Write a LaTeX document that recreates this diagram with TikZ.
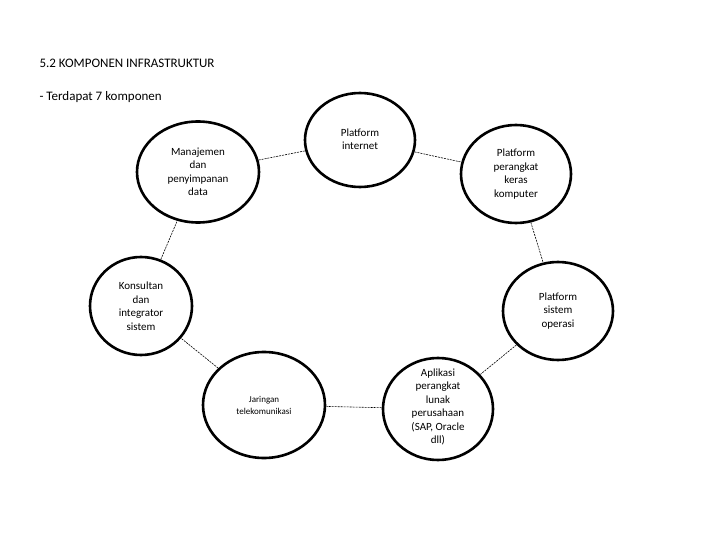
\documentclass[tikz,border=0pt]{standalone}
\usepackage{fontspec}
\setmainfont{Carlito}
\begin{document}
\begin{tikzpicture}[x=1pt,y=-1pt,
  comp/.style={ellipse,draw,line width=2.6pt,align=center,font=\fontsize{11}{13.5}\selectfont,inner sep=0pt},
  link/.style={line width=0.6pt,dash pattern=on 2pt off 1pt}]
\useasboundingbox (0,0) rectangle (720,540);
\usetikzlibrary{shapes.geometric}
\node[anchor=west,font=\fontsize{13}{15}\selectfont] (t1) at (36,63) {5.2 KOMPONEN INFRASTRUKTUR};
\node[anchor=west,font=\fontsize{13}{15}\selectfont] (t2) at (36,97) {- Terdapat 7 komponen};
\node[comp,minimum width=110,minimum height=94] (inet) at (360,140) {};
\node[font=\fontsize{11}{13.5}\selectfont,align=center] (inetl) at (360,139) {Platform\\internet};
\node[comp,minimum width=122,minimum height=101] (man) at (198,172) {Manajemen\\dan\\penyimpanan\\data};
\node[comp,minimum width=110,minimum height=98] (hw) at (516,174) {Platform\\perangkat\\keras\\komputer};
\node[comp,minimum width=102,minimum height=98] (kon) at (141,306) {Konsultan\\dan\\integrator\\sistem};
\node[comp,minimum width=110,minimum height=98] (os) at (558,311) {Platform\\sistem\\operasi};
\node[comp,minimum width=122,minimum height=106,font=\fontsize{9}{12}\selectfont] (jar) at (264,405) {Jaringan\\telekomunikasi};
\node[comp,minimum width=110,minimum height=102] (app) at (438,409) {};
\node[font=\fontsize{11}{13.5}\selectfont,align=center] (appl) at (438,407) {Aplikasi\\perangkat\\lunak\\perusahaan\\(SAP, Oracle\\dll)};
\draw[link] (man) -- (inet);
\draw[link] (inet) -- (hw);
\draw[link] (hw) -- (os);
\draw[link] (os) -- (app);
\draw[link] (app) -- (jar);
\draw[link] (jar) -- (kon);
\draw[link] (kon) -- (man);
\end{tikzpicture}
\end{document}
